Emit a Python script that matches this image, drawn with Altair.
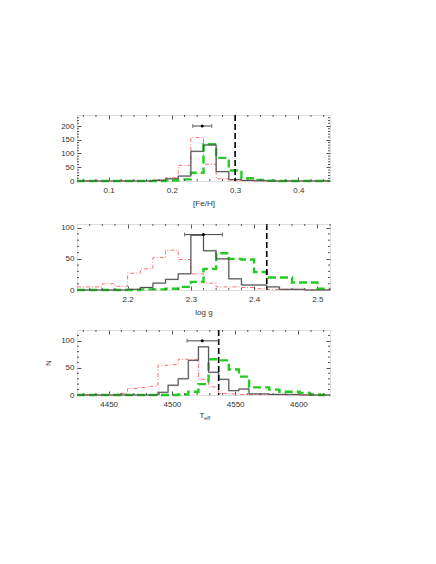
import altair as alt
import pandas as pd

FONT = "Liberation Sans"

# ---------------- Panel 1: [Fe/H] ----------------
feh_edges = [0.05, 0.07, 0.09, 0.11, 0.13, 0.15, 0.17, 0.19, 0.21, 0.23, 0.25,
             0.27, 0.29, 0.31, 0.33, 0.35, 0.37, 0.39, 0.41, 0.43, 0.45]
feh_black = [0, 0, 0, 0, 0, 0, 2, 8, 18, 108, 131, 34, 5, 2, 1, 0, 0, 0, 0, 0]
feh_red = [0, 0, 0, 0, 0, 1, 4, 12, 57, 158, 61, 8, 2, 1, 0, 0, 0, 0, 0, 0]
feh_green = [0, 0, 0, 0, 0, 0, 0, 2, 6, 30, 134, 84, 38, 10, 4, 1, 0, 0, 0, 0]
feh_ref = [0.30]
feh_err = {"x": [0.248], "lo": [0.233], "hi": [0.263], "y": [200]}
feh_domain = [0.05, 0.45]
feh_ymax = 240
feh_xticks = [0.1, 0.2, 0.3, 0.4]
feh_xminor = [0.06, 0.08, 0.12, 0.14, 0.16, 0.18, 0.22, 0.24, 0.26, 0.28,
              0.32, 0.34, 0.36, 0.38, 0.42, 0.44]
feh_yticks = [0, 50, 100, 150, 200]
feh_yminor = [10, 20, 30, 40, 60, 70, 80, 90, 110, 120, 130, 140, 160, 170, 180,
              190, 210, 220, 230]

# ---------------- Panel 2: log g ----------------
logg_edges = [2.12, 2.14, 2.16, 2.18, 2.20, 2.22, 2.24, 2.26, 2.28, 2.30, 2.32,
              2.34, 2.36, 2.38, 2.40, 2.42, 2.44, 2.46, 2.48, 2.50, 2.52]
logg_black = [0, 0, 0, 0, 1, 4, 11, 17, 26, 88, 63, 50, 18, 8, 8, 5, 1, 1, 0, 0]
logg_red = [5, 5, 10, 6, 27, 34, 52, 64, 49, 26, 11, 5, 5, 4, 2, 1, 1, 1, 0, 1]
logg_green = [0, 0, 0, 0, 0, 1, 1, 2, 5, 13, 34, 59, 50, 49, 29, 20, 20, 12, 12, 2]
logg_ref = [2.42]
logg_err = {"x": [2.32], "lo": [2.29], "hi": [2.35], "y": [89]}
logg_domain = [2.12, 2.52]
logg_ymax = 106
logg_xticks = [2.2, 2.3, 2.4, 2.5]
logg_xminor = [2.14, 2.16, 2.18, 2.22, 2.24, 2.26, 2.28, 2.32, 2.34, 2.36, 2.38,
               2.42, 2.44, 2.46, 2.48, 2.52]
logg_yticks = [0, 50, 100]
logg_yminor = [10, 20, 30, 40, 60, 70, 80, 90]

# ---------------- Panel 3: Teff ----------------
teff_edges = [4425, 4433, 4441, 4449, 4457, 4465, 4473, 4481, 4489, 4497, 4505,
              4513, 4521, 4529, 4537, 4545, 4553, 4561, 4569, 4577, 4585, 4593,
              4601, 4609, 4617, 4625]
teff_black = [0, 0, 0, 0, 0, 0, 0, 0, 5, 18, 30, 64, 89, 42, 29, 8, 11, 2, 2, 1, 1, 1, 0, 0, 0]
teff_red = [0, 0, 0, 0, 3, 12, 14, 16, 55, 56, 66, 66, 29, 15, 3, 2, 1, 1, 1, 1, 0, 0, 0, 0, 0]
teff_green = [0, 0, 0, 0, 0, 0, 0, 0, 0, 0, 1, 6, 20, 66, 64, 47, 34, 14, 14, 10, 6, 6, 4, 1, 0]
teff_ref = [4537]
teff_err = {"x": [4524], "lo": [4512], "hi": [4537], "y": [100]}
teff_domain = [4425, 4625]
teff_ymax = 120
teff_xticks = [4450, 4500, 4550, 4600]
teff_xminor = [4430, 4440, 4460, 4470, 4480, 4490, 4510, 4520, 4530, 4540, 4560,
               4570, 4580, 4590, 4610, 4620]
teff_yticks = [0, 50, 100]
teff_yminor = [10, 20, 30, 40, 60, 70, 80, 90, 110]

W = 253
H = 66
TICK = "#555555"
LABEL = "#333333"


def step_df(edges, counts):
    return pd.DataFrame({"x": list(edges), "y": list(counts) + [counts[-1]]})


def panel(edges, black, red, green, ref, err, domain, ymax, xticks, xminor,
          yticks, yminor, xfmt, xtitle, ytitle, h):
    xs = alt.Scale(domain=domain, nice=False, zero=False)
    ys = alt.Scale(domain=[0, ymax], nice=False)
    ax_bottom = alt.Axis(orient="bottom", values=xticks, format=xfmt, offset=-4,
                         tickSize=4, domain=False, grid=False, labelPadding=5,
                         labelFontSize=8, labelFont=FONT, labelColor=LABEL,
                         tickColor=TICK, labelFlush=False,
                         title=xtitle if xtitle else None, titleFontSize=8,
                         titleFont=FONT, titleFontWeight="normal",
                         titleColor=LABEL, titlePadding=5)
    ax_top = alt.Axis(orient="top", values=xticks, labels=False, offset=-4,
                      tickSize=4, domain=False, grid=False, tickColor=TICK,
                      title=None)
    ax_left = alt.Axis(orient="left", values=yticks, format="d", offset=-4,
                       tickSize=4, domain=False, grid=False, labelPadding=3,
                       labelFontSize=8, labelFont=FONT, labelColor=LABEL,
                       tickColor=TICK, labelFlush=False,
                       title=ytitle if ytitle else None, titleFontSize=8,
                       titleFont=FONT, titleFontWeight="normal",
                       titleColor=LABEL, titlePadding=8)
    ax_right = alt.Axis(orient="right", values=yticks, labels=False, offset=-4,
                        tickSize=4, domain=False, grid=False, tickColor=TICK,
                        title=None)

    df_b = step_df(edges, black)
    df_r = step_df(edges, red)
    df_g = step_df(edges, green)

    gray = alt.Chart(df_b).mark_line(interpolate="step-after", color="#cccccc",
                                     strokeWidth=1.8).encode(
        x=alt.X("x:Q", scale=xs, axis=ax_bottom),
        y=alt.Y("y:Q", scale=ys, axis=ax_left))
    redl = alt.Chart(df_r).mark_line(interpolate="step-after", color="#ff7070",
                                     strokeWidth=1, strokeDash=[4, 2, 1, 2]).encode(
        x=alt.X("x:Q", scale=xs, axis=None),
        y=alt.Y("y:Q", scale=ys, axis=None))
    greenl = alt.Chart(df_g).mark_line(interpolate="step-after", color="#22cc22",
                                       strokeWidth=2.4, strokeDash=[8, 4]).encode(
        x=alt.X("x:Q", scale=xs, axis=ax_top),
        y=alt.Y("y:Q", scale=ys, axis=ax_right))
    blackl = alt.Chart(df_b).mark_line(interpolate="step-after", color="#444444",
                                       strokeWidth=0.9).encode(
        x=alt.X("x:Q", scale=xs, axis=None),
        y=alt.Y("y:Q", scale=ys, axis=None))

    refl = alt.Chart(pd.DataFrame({"x": ref})).mark_rule(
        color="black", strokeWidth=1.6, strokeDash=[6, 3]).encode(
        x=alt.X("x:Q", scale=xs, axis=None))

    edf = pd.DataFrame(err)
    ebar = alt.Chart(edf).mark_rule(color="#444444", strokeWidth=1).encode(
        x=alt.X("lo:Q", scale=xs, axis=None), x2="hi:Q",
        y=alt.Y("y:Q", scale=ys, axis=None))
    ecap_l = alt.Chart(edf).mark_tick(orient="vertical", size=4, thickness=1,
                                      color="#444444").encode(
        x=alt.X("lo:Q", scale=xs, axis=None),
        y=alt.Y("y:Q", scale=ys, axis=None))
    ecap_r = alt.Chart(edf).mark_tick(orient="vertical", size=4, thickness=1,
                                      color="#444444").encode(
        x=alt.X("hi:Q", scale=xs, axis=None),
        y=alt.Y("y:Q", scale=ys, axis=None))
    epoint = alt.Chart(edf).mark_circle(size=9, color="black", opacity=1).encode(
        x=alt.X("x:Q", scale=xs, axis=None),
        y=alt.Y("y:Q", scale=ys, axis=None))

    xm = pd.DataFrame({"x": xminor})
    ym = pd.DataFrame({"y": yminor})
    mb = alt.Chart(xm).mark_rule(color=TICK, strokeWidth=1).encode(
        x=alt.X("x:Q", scale=xs, axis=None), y=alt.value(h), y2=alt.value(h - 2))
    mt = alt.Chart(xm).mark_rule(color=TICK, strokeWidth=1).encode(
        x=alt.X("x:Q", scale=xs, axis=None), y=alt.value(0), y2=alt.value(2))
    ml = alt.Chart(ym).mark_rule(color=TICK, strokeWidth=1).encode(
        y=alt.Y("y:Q", scale=ys, axis=None), x=alt.value(0), x2=alt.value(2))
    mr = alt.Chart(ym).mark_rule(color=TICK, strokeWidth=1).encode(
        y=alt.Y("y:Q", scale=ys, axis=None), x=alt.value(W), x2=alt.value(W - 2))

    layers = [gray, redl, greenl, blackl, refl, ebar, ecap_l, ecap_r, epoint,
              mb, mt, ml, mr]
    return layers


p1 = alt.layer(*panel(feh_edges, feh_black, feh_red, feh_green, feh_ref, feh_err,
                      feh_domain, feh_ymax, feh_xticks, feh_xminor, feh_yticks,
                      feh_yminor, ".1f", "[Fe/H]", "", H)).resolve_axis(
    x="independent", y="independent").properties(width=W, height=H)

p2 = alt.layer(*panel(logg_edges, logg_black, logg_red, logg_green, logg_ref,
                      logg_err, logg_domain, logg_ymax, logg_xticks, logg_xminor,
                      logg_yticks, logg_yminor, ".1f", "log g", "", H)).resolve_axis(
    x="independent", y="independent").properties(width=W, height=H)

H3 = 65
teff_layers = panel(teff_edges, teff_black, teff_red, teff_green, teff_ref,
                    teff_err, teff_domain, teff_ymax, teff_xticks, teff_xminor,
                    teff_yticks, teff_yminor, "d", "", "N", H3)
t_main = alt.Chart(pd.DataFrame({"t": ["T"]})).mark_text(
    font=FONT, fontSize=8, color=LABEL, align="right", baseline="middle").encode(
    text="t:N", x=alt.value(W / 2 + 1), y=alt.value(H3 + 21))
t_sub = alt.Chart(pd.DataFrame({"t": ["eff"]})).mark_text(
    font=FONT, fontSize=5.5, color=LABEL, align="left", baseline="middle").encode(
    text="t:N", x=alt.value(W / 2 + 0.8), y=alt.value(H3 + 23))
p3 = alt.layer(*teff_layers, t_main, t_sub).resolve_axis(
    x="independent", y="independent").properties(width=W, height=H3)

top_two = alt.vconcat(p1, p2, spacing=14)
chart = alt.vconcat(top_two, p3, spacing=11).properties(
    padding={"left": 36, "top": 105, "right": 5, "bottom": 5}
).configure_view(stroke="#555555", strokeWidth=1.2).configure(
    background="white")

chart.save("out.html", embed_options={"renderer": "svg", "actions": False})
